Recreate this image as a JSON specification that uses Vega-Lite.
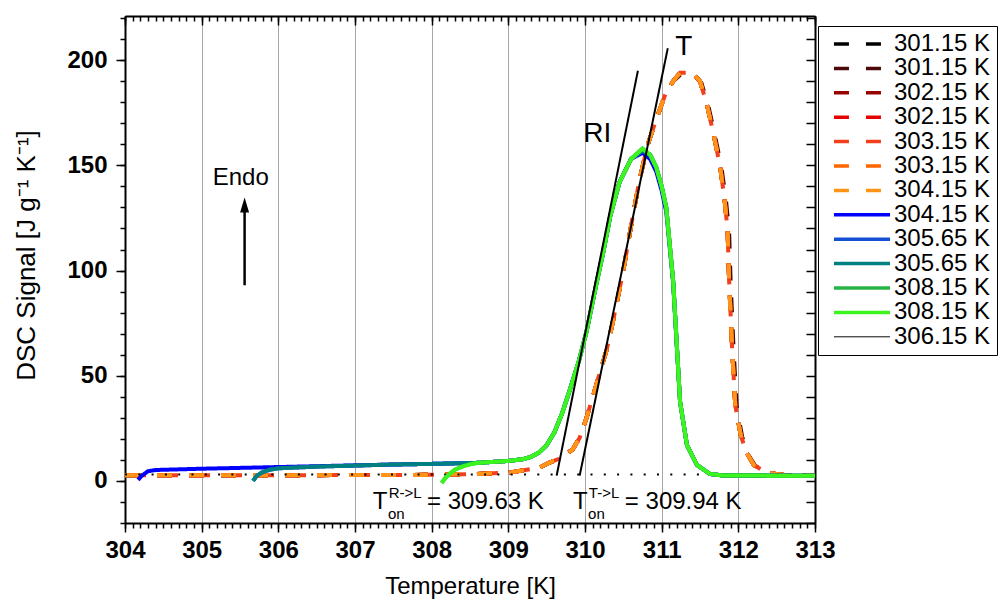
{
"$schema":"https://vega.github.io/schema/vega-lite/v6.json",
"width":690,"height":507,
"autosize":{"type":"none"},
"padding":{"left":125,"top":16,"right":186,"bottom":86},
"background":"white",
"config":{"view":{"stroke":null},"font":"Liberation Sans","axis":{"labelFont":"Liberation Sans","titleFont":"Liberation Sans","labelColor":"black","titleColor":"black","tickColor":"black","domainColor":"black"}},
"datasets":{
"heat":[
{"s":"a","T":304,"y":2.7},{"s":"a","T":306,"y":2.7},{"s":"a","T":308,"y":2.9},{"s":"a","T":308.5,"y":3.2},{"s":"a","T":309,"y":3.9},{"s":"a","T":309.4,"y":6.2},{"s":"a","T":309.53,"y":8.6},{"s":"a","T":309.66,"y":10.5},{"s":"a","T":309.84,"y":15},{"s":"a","T":309.93,"y":20.5},{"s":"a","T":310.02,"y":30},{"s":"a","T":310.11,"y":41},{"s":"a","T":310.19,"y":51},{"s":"a","T":310.28,"y":62},{"s":"a","T":310.36,"y":75},{"s":"a","T":310.5,"y":100},{"s":"a","T":310.6,"y":121},{"s":"a","T":310.71,"y":143},{"s":"a","T":310.82,"y":160},{"s":"a","T":310.93,"y":172},{"s":"a","T":311.05,"y":184},{"s":"a","T":311.15,"y":190},{"s":"a","T":311.24,"y":194},{"s":"a","T":311.4,"y":194},{"s":"a","T":311.5,"y":190},{"s":"a","T":311.59,"y":179},{"s":"a","T":311.67,"y":166},{"s":"a","T":311.76,"y":150},{"s":"a","T":311.82,"y":134},{"s":"a","T":311.86,"y":119},{"s":"a","T":311.88,"y":95},{"s":"a","T":311.92,"y":62},{"s":"a","T":311.96,"y":36},{"s":"a","T":312.03,"y":22},{"s":"a","T":312.1,"y":14},{"s":"a","T":312.2,"y":7.6},{"s":"a","T":312.37,"y":3.8},{"s":"a","T":312.6,"y":2.8},{"s":"a","T":313,"y":2.7},
{"s":"b","T":304,"y":2.7},{"s":"b","T":306,"y":2.7},{"s":"b","T":308,"y":2.9},{"s":"b","T":308.5,"y":3.2},{"s":"b","T":309,"y":3.9},{"s":"b","T":309.4,"y":6.2},{"s":"b","T":309.53,"y":8.6},{"s":"b","T":309.66,"y":10.5},{"s":"b","T":309.84,"y":15},{"s":"b","T":309.93,"y":20.5},{"s":"b","T":310.02,"y":30},{"s":"b","T":310.11,"y":41},{"s":"b","T":310.19,"y":51},{"s":"b","T":310.28,"y":62},{"s":"b","T":310.36,"y":75},{"s":"b","T":310.5,"y":100},{"s":"b","T":310.6,"y":121},{"s":"b","T":310.71,"y":143},{"s":"b","T":310.82,"y":160},{"s":"b","T":310.93,"y":172},{"s":"b","T":311.05,"y":184},{"s":"b","T":311.15,"y":190},{"s":"b","T":311.24,"y":193},{"s":"b","T":311.42,"y":193},{"s":"b","T":311.52,"y":189},{"s":"b","T":311.61,"y":178},{"s":"b","T":311.69,"y":165},{"s":"b","T":311.78,"y":149},{"s":"b","T":311.84,"y":133},{"s":"b","T":311.88,"y":118},{"s":"b","T":311.9,"y":94},{"s":"b","T":311.94,"y":61},{"s":"b","T":311.98,"y":35},{"s":"b","T":312.05,"y":21},{"s":"b","T":312.12,"y":13},{"s":"b","T":312.22,"y":7.2},{"s":"b","T":312.39,"y":3.6},{"s":"b","T":312.6,"y":2.8},{"s":"b","T":313,"y":2.7},
{"s":"c","T":304,"y":2.7},{"s":"c","T":306,"y":2.7},{"s":"c","T":308,"y":2.9},{"s":"c","T":308.5,"y":3.2},{"s":"c","T":309,"y":3.9},{"s":"c","T":309.4,"y":6.2},{"s":"c","T":309.53,"y":8.6},{"s":"c","T":309.66,"y":10.5},{"s":"c","T":309.84,"y":15},{"s":"c","T":309.93,"y":20.5},{"s":"c","T":310.02,"y":30},{"s":"c","T":310.11,"y":41},{"s":"c","T":310.19,"y":51},{"s":"c","T":310.28,"y":62},{"s":"c","T":310.36,"y":75},{"s":"c","T":310.5,"y":100},{"s":"c","T":310.6,"y":121},{"s":"c","T":310.71,"y":143},{"s":"c","T":310.82,"y":160},{"s":"c","T":310.93,"y":172},{"s":"c","T":311.05,"y":184},{"s":"c","T":311.15,"y":190},{"s":"c","T":311.24,"y":194},{"s":"c","T":311.4,"y":194},{"s":"c","T":311.5,"y":190},{"s":"c","T":311.59,"y":179},{"s":"c","T":311.67,"y":166},{"s":"c","T":311.76,"y":150},{"s":"c","T":311.82,"y":134},{"s":"c","T":311.86,"y":119},{"s":"c","T":311.88,"y":95},{"s":"c","T":311.92,"y":62},{"s":"c","T":311.96,"y":36},{"s":"c","T":312.03,"y":22},{"s":"c","T":312.1,"y":14},{"s":"c","T":312.2,"y":7.6},{"s":"c","T":312.37,"y":3.8},{"s":"c","T":312.6,"y":2.8},{"s":"c","T":313,"y":2.7},
{"s":"d","T":304,"y":2.7},{"s":"d","T":306,"y":2.7},{"s":"d","T":308,"y":2.9},{"s":"d","T":308.5,"y":3.2},{"s":"d","T":309,"y":3.9},{"s":"d","T":309.4,"y":6.2},{"s":"d","T":309.53,"y":8.6},{"s":"d","T":309.66,"y":10.5},{"s":"d","T":309.84,"y":15},{"s":"d","T":309.93,"y":20.5},{"s":"d","T":310.02,"y":30},{"s":"d","T":310.11,"y":41},{"s":"d","T":310.19,"y":51},{"s":"d","T":310.28,"y":62},{"s":"d","T":310.36,"y":75},{"s":"d","T":310.5,"y":100},{"s":"d","T":310.6,"y":121},{"s":"d","T":310.71,"y":143},{"s":"d","T":310.82,"y":160},{"s":"d","T":310.93,"y":172},{"s":"d","T":311.05,"y":184},{"s":"d","T":311.15,"y":190},{"s":"d","T":311.24,"y":194},{"s":"d","T":311.4,"y":194},{"s":"d","T":311.5,"y":190},{"s":"d","T":311.59,"y":179},{"s":"d","T":311.67,"y":166},{"s":"d","T":311.76,"y":150},{"s":"d","T":311.82,"y":134},{"s":"d","T":311.86,"y":119},{"s":"d","T":311.88,"y":95},{"s":"d","T":311.92,"y":62},{"s":"d","T":311.96,"y":36},{"s":"d","T":312.03,"y":22},{"s":"d","T":312.1,"y":14},{"s":"d","T":312.2,"y":7.6},{"s":"d","T":312.37,"y":3.8},{"s":"d","T":312.6,"y":2.8},{"s":"d","T":313,"y":2.7},
{"s":"e","T":304,"y":2.7},{"s":"e","T":306,"y":2.7},{"s":"e","T":308,"y":2.9},{"s":"e","T":308.5,"y":3.2},{"s":"e","T":309,"y":3.9},{"s":"e","T":309.4,"y":6.2},{"s":"e","T":309.53,"y":8.6},{"s":"e","T":309.66,"y":10.5},{"s":"e","T":309.84,"y":15},{"s":"e","T":309.93,"y":20.5},{"s":"e","T":310.02,"y":30},{"s":"e","T":310.11,"y":41},{"s":"e","T":310.19,"y":51},{"s":"e","T":310.28,"y":62},{"s":"e","T":310.36,"y":75},{"s":"e","T":310.5,"y":100},{"s":"e","T":310.6,"y":121},{"s":"e","T":310.71,"y":143},{"s":"e","T":310.82,"y":160},{"s":"e","T":310.93,"y":172},{"s":"e","T":311.05,"y":184},{"s":"e","T":311.15,"y":190},{"s":"e","T":311.24,"y":194},{"s":"e","T":311.4,"y":194},{"s":"e","T":311.5,"y":190},{"s":"e","T":311.59,"y":179},{"s":"e","T":311.67,"y":166},{"s":"e","T":311.76,"y":150},{"s":"e","T":311.82,"y":134},{"s":"e","T":311.86,"y":119},{"s":"e","T":311.88,"y":95},{"s":"e","T":311.92,"y":62},{"s":"e","T":311.96,"y":36},{"s":"e","T":312.03,"y":22},{"s":"e","T":312.1,"y":14},{"s":"e","T":312.2,"y":7.6},{"s":"e","T":312.37,"y":3.8},{"s":"e","T":312.6,"y":2.8},{"s":"e","T":313,"y":2.7},
{"s":"f","T":304,"y":2.7},{"s":"f","T":306,"y":2.7},{"s":"f","T":308,"y":2.9},{"s":"f","T":308.5,"y":3.2},{"s":"f","T":309,"y":3.9},{"s":"f","T":309.4,"y":6.2},{"s":"f","T":309.53,"y":8.6},{"s":"f","T":309.66,"y":10.5},{"s":"f","T":309.84,"y":15},{"s":"f","T":309.93,"y":20.5},{"s":"f","T":310.02,"y":30},{"s":"f","T":310.11,"y":41},{"s":"f","T":310.19,"y":51},{"s":"f","T":310.28,"y":62},{"s":"f","T":310.36,"y":75},{"s":"f","T":310.5,"y":100},{"s":"f","T":310.6,"y":121},{"s":"f","T":310.71,"y":143},{"s":"f","T":310.82,"y":160},{"s":"f","T":310.93,"y":172},{"s":"f","T":311.05,"y":184},{"s":"f","T":311.15,"y":190},{"s":"f","T":311.24,"y":194},{"s":"f","T":311.4,"y":194},{"s":"f","T":311.5,"y":190},{"s":"f","T":311.59,"y":179},{"s":"f","T":311.67,"y":166},{"s":"f","T":311.76,"y":150},{"s":"f","T":311.82,"y":134},{"s":"f","T":311.86,"y":119},{"s":"f","T":311.88,"y":95},{"s":"f","T":311.92,"y":62},{"s":"f","T":311.96,"y":36},{"s":"f","T":312.03,"y":22},{"s":"f","T":312.1,"y":14},{"s":"f","T":312.2,"y":7.6},{"s":"f","T":312.37,"y":3.8},{"s":"f","T":312.6,"y":2.8},{"s":"f","T":313,"y":2.7},
{"s":"g","T":304,"y":2.7},{"s":"g","T":306,"y":2.7},{"s":"g","T":308,"y":2.9},{"s":"g","T":308.5,"y":3.2},{"s":"g","T":309,"y":3.9},{"s":"g","T":309.4,"y":6.2},{"s":"g","T":309.53,"y":8.6},{"s":"g","T":309.66,"y":10.5},{"s":"g","T":309.84,"y":15},{"s":"g","T":309.93,"y":20.5},{"s":"g","T":310.02,"y":30},{"s":"g","T":310.11,"y":41},{"s":"g","T":310.19,"y":51},{"s":"g","T":310.28,"y":62},{"s":"g","T":310.36,"y":75},{"s":"g","T":310.5,"y":100},{"s":"g","T":310.6,"y":121},{"s":"g","T":310.71,"y":143},{"s":"g","T":310.82,"y":160},{"s":"g","T":310.93,"y":172},{"s":"g","T":311.05,"y":184},{"s":"g","T":311.15,"y":190},{"s":"g","T":311.24,"y":194},{"s":"g","T":311.4,"y":194},{"s":"g","T":311.5,"y":190},{"s":"g","T":311.59,"y":179},{"s":"g","T":311.67,"y":166},{"s":"g","T":311.76,"y":150},{"s":"g","T":311.82,"y":134},{"s":"g","T":311.86,"y":119},{"s":"g","T":311.88,"y":95},{"s":"g","T":311.92,"y":62},{"s":"g","T":311.96,"y":36},{"s":"g","T":312.03,"y":22},{"s":"g","T":312.1,"y":14},{"s":"g","T":312.2,"y":7.6},{"s":"g","T":312.37,"y":3.8},{"s":"g","T":312.6,"y":2.8},{"s":"g","T":313,"y":2.7}
],
"cool":[
{"s":"h","T":304.17,"y":0.5},{"s":"h","T":304.22,"y":2.5},{"s":"h","T":304.3,"y":4.6},{"s":"h","T":304.4,"y":5.2},{"s":"h","T":304.7,"y":5.5},{"s":"h","T":305,"y":5.8},{"s":"h","T":305.5,"y":6.2},{"s":"h","T":306,"y":6.6},{"s":"h","T":306.5,"y":7.0},{"s":"h","T":307,"y":7.4},{"s":"h","T":307.5,"y":7.8},{"s":"h","T":308,"y":8.1},{"s":"h","T":308.6,"y":8.6},{"s":"h","T":309,"y":9.5},{"s":"h","T":309.2,"y":10.4},{"s":"h","T":309.3,"y":11.5},{"s":"h","T":309.4,"y":13.5},{"s":"h","T":309.5,"y":17},{"s":"h","T":309.6,"y":23},{"s":"h","T":309.7,"y":32},{"s":"h","T":309.8,"y":43},{"s":"h","T":309.92,"y":57},{"s":"h","T":310.02,"y":71},{"s":"h","T":310.15,"y":94},{"s":"h","T":310.24,"y":109},{"s":"h","T":310.33,"y":126},{"s":"h","T":310.45,"y":142},{"s":"h","T":310.6,"y":153},{"s":"h","T":310.75,"y":156},{"s":"h","T":310.85,"y":153},{"s":"h","T":310.93,"y":147},{"s":"h","T":311,"y":138},{"s":"h","T":311.06,"y":128},{"s":"h","T":311.15,"y":94},{"s":"h","T":311.24,"y":37.6},{"s":"h","T":311.33,"y":17},{"s":"h","T":311.46,"y":7.6},{"s":"h","T":311.63,"y":3.3},{"s":"h","T":311.8,"y":2.6},{"s":"h","T":312.5,"y":2.5},{"s":"h","T":313,"y":2.5},
{"s":"i","T":305.67,"y":0},{"s":"i","T":305.72,"y":2.5},{"s":"i","T":305.8,"y":4.3},{"s":"i","T":305.9,"y":5.4},{"s":"i","T":306,"y":6.0},{"s":"i","T":306.5,"y":6.8},{"s":"i","T":307,"y":7.3},{"s":"i","T":307.5,"y":7.8},{"s":"i","T":308,"y":8.1},{"s":"i","T":308.6,"y":8.6},{"s":"i","T":309,"y":9.5},{"s":"i","T":309.2,"y":10.4},{"s":"i","T":309.3,"y":11.5},{"s":"i","T":309.4,"y":13.5},{"s":"i","T":309.5,"y":17},{"s":"i","T":309.6,"y":23},{"s":"i","T":309.7,"y":32},{"s":"i","T":309.8,"y":43},{"s":"i","T":309.92,"y":57},{"s":"i","T":310.02,"y":71},{"s":"i","T":310.15,"y":94},{"s":"i","T":310.24,"y":109},{"s":"i","T":310.33,"y":126},{"s":"i","T":310.45,"y":142},{"s":"i","T":310.6,"y":153},{"s":"i","T":310.75,"y":157},{"s":"i","T":310.85,"y":155},{"s":"i","T":310.93,"y":149},{"s":"i","T":311,"y":140},{"s":"i","T":311.06,"y":130},{"s":"i","T":311.15,"y":95},{"s":"i","T":311.24,"y":37.6},{"s":"i","T":311.33,"y":17},{"s":"i","T":311.46,"y":7.6},{"s":"i","T":311.63,"y":3.3},{"s":"i","T":311.8,"y":2.6},{"s":"i","T":312.5,"y":2.5},{"s":"i","T":313,"y":2.5},
{"s":"j","T":305.67,"y":0},{"s":"j","T":305.72,"y":2.5},{"s":"j","T":305.8,"y":4.3},{"s":"j","T":305.9,"y":5.4},{"s":"j","T":306,"y":6.0},{"s":"j","T":306.5,"y":6.8},{"s":"j","T":307,"y":7.3},{"s":"j","T":307.5,"y":7.8},{"s":"j","T":308,"y":8.1},{"s":"j","T":308.6,"y":8.6},{"s":"j","T":309,"y":9.5},{"s":"j","T":309.2,"y":10.4},{"s":"j","T":309.3,"y":11.5},{"s":"j","T":309.4,"y":13.5},{"s":"j","T":309.5,"y":17},{"s":"j","T":309.6,"y":23},{"s":"j","T":309.7,"y":32},{"s":"j","T":309.8,"y":43},{"s":"j","T":309.92,"y":57},{"s":"j","T":310.02,"y":71},{"s":"j","T":310.15,"y":94},{"s":"j","T":310.24,"y":109},{"s":"j","T":310.33,"y":126},{"s":"j","T":310.45,"y":142},{"s":"j","T":310.6,"y":153},{"s":"j","T":310.75,"y":157},{"s":"j","T":310.85,"y":155},{"s":"j","T":310.93,"y":149},{"s":"j","T":311,"y":140},{"s":"j","T":311.06,"y":130},{"s":"j","T":311.15,"y":95},{"s":"j","T":311.24,"y":37.6},{"s":"j","T":311.33,"y":17},{"s":"j","T":311.46,"y":7.6},{"s":"j","T":311.63,"y":3.3},{"s":"j","T":311.8,"y":2.6},{"s":"j","T":312.5,"y":2.5},{"s":"j","T":313,"y":2.5},
{"s":"k","T":308.13,"y":-1},{"s":"k","T":308.18,"y":1.5},{"s":"k","T":308.24,"y":3.5},{"s":"k","T":308.3,"y":5.3},{"s":"k","T":308.41,"y":7},{"s":"k","T":308.5,"y":7.9},{"s":"k","T":308.6,"y":8.6},{"s":"k","T":309,"y":9.5},{"s":"k","T":309.2,"y":10.4},{"s":"k","T":309.3,"y":11.5},{"s":"k","T":309.4,"y":13.5},{"s":"k","T":309.5,"y":17},{"s":"k","T":309.6,"y":23},{"s":"k","T":309.7,"y":32},{"s":"k","T":309.8,"y":43},{"s":"k","T":309.92,"y":57},{"s":"k","T":310.02,"y":71},{"s":"k","T":310.15,"y":94},{"s":"k","T":310.24,"y":109},{"s":"k","T":310.33,"y":126},{"s":"k","T":310.45,"y":142},{"s":"k","T":310.6,"y":153},{"s":"k","T":310.75,"y":158},{"s":"k","T":310.85,"y":155},{"s":"k","T":310.93,"y":149},{"s":"k","T":311,"y":140},{"s":"k","T":311.06,"y":130},{"s":"k","T":311.15,"y":95},{"s":"k","T":311.24,"y":37.6},{"s":"k","T":311.33,"y":17},{"s":"k","T":311.46,"y":7.6},{"s":"k","T":311.63,"y":3.3},{"s":"k","T":311.8,"y":2.6},{"s":"k","T":312.5,"y":2.5},{"s":"k","T":313,"y":2.5},
{"s":"l","T":308.13,"y":-1},{"s":"l","T":308.18,"y":1.5},{"s":"l","T":308.24,"y":3.5},{"s":"l","T":308.3,"y":5.3},{"s":"l","T":308.41,"y":7},{"s":"l","T":308.5,"y":7.9},{"s":"l","T":308.6,"y":8.6},{"s":"l","T":309,"y":9.5},{"s":"l","T":309.2,"y":10.4},{"s":"l","T":309.3,"y":11.5},{"s":"l","T":309.4,"y":13.5},{"s":"l","T":309.5,"y":17},{"s":"l","T":309.6,"y":23},{"s":"l","T":309.7,"y":32},{"s":"l","T":309.8,"y":43},{"s":"l","T":309.92,"y":57},{"s":"l","T":310.02,"y":71},{"s":"l","T":310.15,"y":94},{"s":"l","T":310.24,"y":109},{"s":"l","T":310.33,"y":126},{"s":"l","T":310.45,"y":142},{"s":"l","T":310.6,"y":153},{"s":"l","T":310.75,"y":158},{"s":"l","T":310.85,"y":155},{"s":"l","T":310.93,"y":149},{"s":"l","T":311,"y":140},{"s":"l","T":311.06,"y":130},{"s":"l","T":311.15,"y":95},{"s":"l","T":311.24,"y":37.6},{"s":"l","T":311.33,"y":17},{"s":"l","T":311.46,"y":7.6},{"s":"l","T":311.63,"y":3.3},{"s":"l","T":311.8,"y":2.6},{"s":"l","T":312.5,"y":2.5},{"s":"l","T":313,"y":2.5}
],
"tan":[
{"s":"m","g":1,"T":309.63,"y":2.5},{"s":"m","g":1,"T":310.69,"y":195},
{"s":"m","g":2,"T":309.93,"y":2.5},{"s":"m","g":2,"T":311.08,"y":205.7}
]
},
"encoding":{
"x":{"field":"T","type":"quantitative","scale":{"domain":[304,313],"nice":false,"zero":false},"axis":null},
"y":{"field":"y","type":"quantitative","scale":{"domain":[-20,221],"nice":false,"zero":false},"axis":null},
"color":{"field":"s","type":"nominal","scale":{"domain":["a","b","c","d","e","f","g","h","i","j","k","l","m"],"range":["#000000","#4A0808","#990000","#E60000","#F2401C","#FF6600","#FF9419","#0000FF","#1450D2","#008080","#28B446","#3CF51E","#000000"]},
 "legend":{"title":null,"orient":"none","legendX":693,"legendY":10,"padding":6,"symbolOffset":26,"symbolType":"M-1.87,0L1.87,0","symbolSize":900,"rowPadding":0.4,"labelFont":"Liberation Sans","labelFontSize":24,"labelColor":"black","labelOffset":20,"labelLimit":220,"strokeColor":"black","fillColor":"white",
 "labelExpr":"['301.15 K','301.15 K','302.15 K','302.15 K','303.15 K','303.15 K','304.15 K','304.15 K','305.65 K','305.65 K','308.15 K','308.15 K','306.15 K'][indexof('abcdefghijklm', datum.value)]",
 "encode":{"symbols":{"update":{"strokeWidth":{"signal":"datum.value == 'm' ? 1 : 3.5"},"fill":{"value":"transparent"}}}}}},
"strokeDash":{"field":"s","type":"nominal","scale":{"domain":["a","b","c","d","e","f","g","h","i","j","k","l","m"],"range":[[15,17],[15,17],[15,17],[15,17],[15,17],[15,17],[15,17],[1,0],[1,0],[1,0],[1,0],[1,0],[1,0]]},
 "legend":{"title":null,"orient":"none","legendX":693,"legendY":10,"padding":6,"symbolOffset":26,"symbolType":"M-1.87,0L1.87,0","symbolSize":900,"rowPadding":0.4,"labelFont":"Liberation Sans","labelFontSize":24,"labelColor":"black","labelOffset":20,"labelLimit":220,"strokeColor":"black","fillColor":"white",
 "labelExpr":"['301.15 K','301.15 K','302.15 K','302.15 K','303.15 K','303.15 K','304.15 K','304.15 K','305.65 K','305.65 K','308.15 K','308.15 K','306.15 K'][indexof('abcdefghijklm', datum.value)]",
 "encode":{"symbols":{"update":{"strokeWidth":{"signal":"datum.value == 'm' ? 1 : 3.5"},"fill":{"value":"transparent"}}}}}}
},
"resolve":{"axis":{"x":"independent","y":"independent"}},
"layer":[
{"data":{"name":"heat"},"transform":[{"filter":"datum.s=='a'"}],"mark":{"type":"line","strokeWidth":4,"clip":true},
 "encoding":{
 "x":{"field":"T","type":"quantitative","scale":{"domain":[304,313],"nice":false,"zero":false},"axis":{"orient":"bottom","values":[304,305,306,307,308,309,310,311,312,313],"format":"d","labelFontSize":24,"labelFontWeight":"bold","labelPadding":6,"labelFlush":false,"labelOverlap":false,"tickSize":9,"tickWidth":1.5,"domainWidth":2,"grid":true,"gridColor":"#A6A6A6","gridWidth":1,"title":"Temperature [K]","titleFontSize":24,"titleFontWeight":"normal","titleX":345,"titleY":70,"titleAlign":"center","titleBaseline":"alphabetic"}},
 "y":{"field":"y","type":"quantitative","scale":{"domain":[-20,221],"nice":false,"zero":false},"axis":{"orient":"left","values":[0,50,100,150,200],"labelFontSize":24,"labelFontWeight":"bold","labelPadding":9,"labelFlush":false,"labelOverlap":false,"tickSize":9,"tickWidth":1.5,"domainWidth":2,"grid":false,"title":"DSC Signal [J g⁻¹ K⁻¹]","titleFontSize":26,"titleFontWeight":"normal","titleAngle":-90,"titleX":-99,"titleY":239,"titleAlign":"center","titleBaseline":"middle"}}}},
{"data":{"name":"heat"},"transform":[{"filter":"datum.s=='b'"}],"mark":{"type":"line","strokeWidth":4,"clip":true},
 "encoding":{
 "x":{"field":"T","type":"quantitative","scale":{"domain":[304,313],"nice":false,"zero":false},"axis":{"orient":"bottom","tickCount":90,"labels":false,"domain":false,"grid":false,"tickSize":5,"tickWidth":1.5,"title":null}},
 "y":{"field":"y","type":"quantitative","scale":{"domain":[-20,221],"nice":false,"zero":false},"axis":{"orient":"left","values":[-20,-10,0,10,20,30,40,50,60,70,80,90,100,110,120,130,140,150,160,170,180,190,200,210,220],"labels":false,"domain":false,"grid":false,"tickSize":5,"tickWidth":1.5,"title":null}}}},
{"data":{"name":"heat"},"transform":[{"filter":"datum.s=='c'"}],"mark":{"type":"line","strokeWidth":4,"clip":true},
 "encoding":{
 "x":{"field":"T","type":"quantitative","scale":{"domain":[304,313],"nice":false,"zero":false},"axis":{"orient":"top","values":[304,305,306,307,308,309,310,311,312,313],"labels":false,"domainWidth":2,"grid":false,"tickSize":-9,"tickWidth":1.5,"title":null}},
 "y":{"field":"y","type":"quantitative","scale":{"domain":[-20,221],"nice":false,"zero":false},"axis":{"orient":"right","values":[-20,-10,0,10,20,30,40,50,60,70,80,90,100,110,120,130,140,150,160,170,180,190,200,210,220],"labels":false,"domainWidth":2,"grid":false,"tickSize":-9,"tickWidth":1.5,"title":null}}}},
{"data":{"name":"heat"},"transform":[{"filter":"datum.s=='d'"}],"mark":{"type":"line","strokeWidth":4,"clip":true},
 "encoding":{
 "x":{"field":"T","type":"quantitative","scale":{"domain":[304,313],"nice":false,"zero":false},"axis":{"orient":"top","tickCount":90,"labels":false,"domain":false,"grid":false,"tickSize":-5,"tickWidth":1.5,"title":null}}}},
{"data":{"name":"heat"},"transform":[{"filter":"datum.s=='e'"}],"mark":{"type":"line","strokeWidth":4,"strokeDashOffset":26,"clip":true}},
{"data":{"name":"heat"},"transform":[{"filter":"datum.s=='f'"}],"mark":{"type":"line","strokeWidth":4,"clip":true}},
{"data":{"name":"heat"},"transform":[{"filter":"datum.s=='g'"}],"mark":{"type":"line","strokeWidth":4,"clip":true}},
{"data":{"values":[{"T":304,"y":3},{"T":313,"y":3}]},"mark":{"type":"line","strokeWidth":2,"strokeDash":[2,11.3],"clip":true},
 "encoding":{"color":{"value":"black"},"strokeDash":{"value":[2,11.3]}}},
{"data":{"name":"cool"},"mark":{"type":"line","strokeWidth":4,"clip":true}},
{"data":{"name":"tan"},"mark":{"type":"line","strokeWidth":2,"clip":true},"encoding":{"detail":{"field":"g"}}},
{"data":{"values":[{"T":305.56,"y":93,"y2":128}]},"mark":{"type":"rule","strokeWidth":2.5},
 "encoding":{"y2":{"field":"y2"},"color":{"value":"black"},"strokeDash":{"value":[1,0]}}},
{"data":{"values":[{"T":305.56,"y":131.2}]},"mark":{"type":"point","shape":"M0,-1L-0.6,1L0.6,1Z","size":225,"filled":true,"opacity":1},
 "encoding":{"color":{"value":"black"},"strokeDash":{"value":[1,0]}}},
{"data":{"values":[{"T":310.16,"y":161,"t":"RI"},{"T":311.29,"y":202.4,"t":"T"}]},"mark":{"type":"text","font":"Liberation Sans","fontSize":28,"align":"center","baseline":"alphabetic"},
 "encoding":{"text":{"field":"t"},"color":{"value":"black"},"strokeDash":{"value":[1,0]}}},
{"data":{"values":[{"T":305.144,"y":140.5,"t":"Endo"},{"T":307.232,"y":-13.3,"t":"T"},{"T":307.94,"y":-13.3,"t":"= 309.63 K"},{"T":309.843,"y":-13.3,"t":"T"},{"T":310.52,"y":-13.3,"t":"= 309.94 K"}]},"mark":{"type":"text","font":"Liberation Sans","fontSize":24,"align":"left","baseline":"alphabetic"},
 "encoding":{"text":{"field":"t"},"color":{"value":"black"},"strokeDash":{"value":[1,0]}}},
{"data":{"values":[{"T":307.44,"y":-8.1,"t":"R->L"},{"T":307.43,"y":-18.1,"t":"on"},{"T":310.05,"y":-8.1,"t":"T->L"},{"T":310.04,"y":-18.1,"t":"on"}]},"mark":{"type":"text","font":"Liberation Sans","fontSize":15,"align":"left","baseline":"alphabetic"},
 "encoding":{"text":{"field":"t"},"color":{"value":"black"},"strokeDash":{"value":[1,0]}}}
]
}
